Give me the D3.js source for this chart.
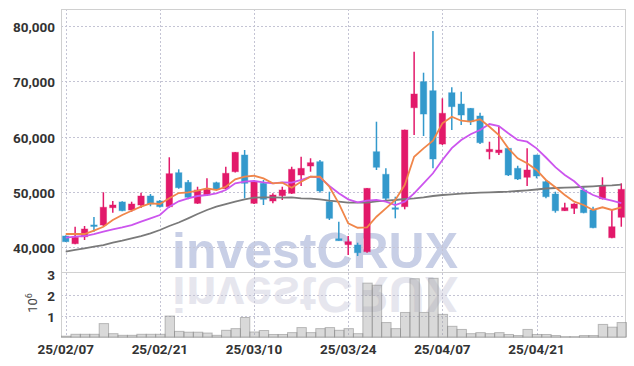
<!DOCTYPE html>
<html>
<head>
<meta charset="utf-8">
<script src="https://cdn.jsdelivr.net/npm/d3@7"></script>
<style>
body { margin: 0; background: #fff; }
svg { display: block; }
.lbl { font-family: Roboto, sans-serif; font-weight: bold; font-size: 13.5px; fill: #333; }
</style>
</head>
<body>
<div id="main"></div>
<script>
// trading days (yy/mm/dd)
var dates = ["25/02/07","25/02/10","25/02/11","25/02/12","25/02/13","25/02/14","25/02/17","25/02/18","25/02/19","25/02/20",
  "25/02/21","25/02/24","25/02/25","25/02/26","25/02/27","25/02/28","25/03/04","25/03/05","25/03/06","25/03/07",
  "25/03/10","25/03/11","25/03/12","25/03/13","25/03/14","25/03/17","25/03/18","25/03/19","25/03/20","25/03/21",
  "25/03/24","25/03/25","25/03/26","25/03/27","25/03/28","25/03/31","25/04/01","25/04/02","25/04/03","25/04/04",
  "25/04/07","25/04/08","25/04/09","25/04/10","25/04/11","25/04/14","25/04/15","25/04/16","25/04/17","25/04/18",
  "25/04/21","25/04/22","25/04/23","25/04/24","25/04/25","25/04/28","25/04/29","25/04/30","25/05/02","25/05/07"];

var open = [41990,40600,41860,43990,43980,47110,48150,46700,47600,49230,
  48330,47300,53450,51710,47910,49410,51640,50550,53630,56650,
  47910,51530,48330,49290,49720,53030,54660,55440,48200,41500,
  40420,40360,39150,57250,53160,47100,47300,65210,69920,68290,
  58640,67930,65880,65100,63710,57250,57070,57860,54240,52620,
  56650,51820,49590,46570,47000,50320,46700,48740,41680,45380];
var high = [42100,43670,43800,45430,49900,48330,48300,48200,49830,49590,
  48500,56240,54060,52130,50910,52430,51820,54530,57200,57560,
  52130,52130,49720,50910,54530,56340,56060,55750,50010,44580,
  41990,40780,50700,62680,54240,49100,61250,75350,71550,79100,
  66910,68910,68110,65150,64310,59060,61770,57900,54710,57860,
  56700,52130,50010,48020,47910,50810,47300,52620,46820,51530];
var low = [40900,40500,41270,42770,43800,46210,46450,46390,47060,47370,
  47150,47100,50550,48630,47800,49230,50320,50450,53500,48810,
  47780,47600,47910,48510,49600,51040,53630,49830,44890,41140,
  38550,38370,38970,53940,48380,45190,46820,60270,60090,54240,
  58460,61180,62080,62080,58640,55870,56650,52850,52130,51040,
  52430,48810,46210,46500,45970,46100,43380,48600,41600,43670];
var close = [40960,41760,43260,43880,47190,47600,46570,47780,49230,47780,
  47300,53270,50730,49000,50320,50440,50440,53340,57140,51530,
  51820,48630,49410,50320,54060,54240,55260,50140,45190,41140,
  40960,38970,50620,54430,48810,47000,61180,67690,64070,55930,
  64200,65400,63890,62680,58880,57680,57560,53030,52310,53940,
  52850,49100,46570,47110,47780,46210,43490,51040,43670,50440];

// volume, millions of shares
var volume = [0.04,0.13,0.13,0.13,0.64,0.16,0.08,0.08,0.13,0.13,
  0.13,1.0,0.27,0.23,0.23,0.19,0.08,0.32,0.40,0.93,
  0.24,0.31,0.12,0.12,0.21,0.45,0.21,0.40,0.45,0.32,
  0.40,0.16,2.57,2.47,0.69,0.40,1.17,2.78,1.17,2.80,
  1.08,0.51,0.36,0.16,0.21,0.16,0.21,0.12,0.07,0.36,
  0.12,0.12,0.07,0.02,0.02,0.07,0.07,0.60,0.47,0.69];

// moving averages
var maShort = [42350,42350,42350,42950,43670,44890,45790,46570,47300,47910,
  47780,48810,49770,49900,50190,50620,50320,50910,52250,52720,
  52900,52430,51530,51640,50730,51820,52720,52720,50910,47910,
  44290,43490,43570,45480,47000,48510,51220,56340,57860,59240,
  62390,63580,62860,62680,63110,61770,60270,57860,56050,55150,
  53940,52130,50810,49410,48200,47600,46700,47190,46700,47190];
var maMid = [41680,41860,41990,42350,42770,43200,43570,43980,44580,45190,
  45790,47300,48270,48810,49230,49410,49720,50320,51530,51820,
  51950,51710,51530,51710,51640,52130,52720,52620,51040,49720,
  48630,48090,48380,48510,48200,47600,48200,49720,51530,53340,
  55750,57900,59370,60400,61180,62260,61900,60580,59370,59060,
  57860,56200,54450,53030,51900,50320,49410,48800,48380,47960];
var maLong = [39150,39460,39760,40050,40360,40780,41140,41570,41990,42480,
  43080,43800,44430,45190,45970,46700,47300,47780,48200,48630,
  48920,49000,49000,48920,49000,48810,48740,48630,48380,48200,
  48020,48020,48020,48270,48380,48510,48690,48810,49000,49230,
  49410,49540,49650,49770,49830,49900,49960,50010,50140,50260,
  50410,50590,50680,50730,50810,50910,50990,51100,51170,51280];

var priceTicks = [40000, 50000, 60000, 70000, 80000];
var volTicks = [1, 2, 3];
var dateTicks = ["25/02/07","25/02/21","25/03/10","25/03/24","25/04/07","25/04/21"];

var W = 634, H = 366;
var plotL = 61, plotR = 626, plotT = 9, plotSep = 272, plotB = 337;

var svg = d3.select("#main").append("svg")
  .attr("width", W)
  .attr("height", H);

var x = d3.scaleBand().domain(dates).range([plotL, plotR]).padding(0);
var y = d3.scaleLinear().domain([35475, 83080]).range([plotSep, plotT]);
var yv = d3.scaleLinear().domain([0, 3.1]).range([plotB, plotSep]);
var bw = x.bandwidth();
var cx = function(d) { return x(d) + bw / 2; };

// watermark and its reflection
var wm = svg.append("g");
wm.append("text")
  .attr("x", 315).attr("y", 268)
  .attr("transform", "translate(0," + (2 * 272.4) + ") scale(1,-1)")
  .attr("text-anchor", "middle")
  .attr("textLength", 286).attr("lengthAdjust", "spacingAndGlyphs")
  .style("font-family", "'Liberation Sans', Arial, sans-serif")
  .style("font-weight", "bold").style("font-size", "50px")
  .style("fill", "#e6e6ee")
  .text("investCRUX");
wm.append("text")
  .attr("x", 315).attr("y", 268)
  .attr("text-anchor", "middle")
  .attr("textLength", 286).attr("lengthAdjust", "spacingAndGlyphs")
  .style("font-family", "'Liberation Sans', Arial, sans-serif")
  .style("font-weight", "bold").style("font-size", "50px")
  .style("fill", "#c8cfe6")
  .text("investCRUX");

// grid
var grid = svg.append("g").attr("stroke", "#c4c4d4").attr("stroke-dasharray", "2,2").attr("stroke-width", 1);
grid.selectAll(".gy").data(priceTicks).enter().append("line")
  .attr("x1", plotL).attr("x2", plotR)
  .attr("y1", function(d) { return Math.round(y(d)) + 0.5; })
  .attr("y2", function(d) { return Math.round(y(d)) + 0.5; });
grid.selectAll(".gv").data([1, 2]).enter().append("line")
  .attr("x1", plotL).attr("x2", plotR)
  .attr("y1", function(d) { return Math.round(yv(d)) + 0.5; })
  .attr("y2", function(d) { return Math.round(yv(d)) + 0.5; });
grid.selectAll(".gx").data(dateTicks).enter().append("line")
  .attr("y1", plotT).attr("y2", plotB)
  .attr("x1", function(d) { return Math.round(cx(d)) + 0.5; })
  .attr("x2", function(d) { return Math.round(cx(d)) + 0.5; });

// frame
var frame = svg.append("g").attr("stroke", "#d0d0d0").attr("stroke-width", 1).attr("fill", "none");
frame.append("rect").attr("x", plotL + 0.5).attr("y", plotT + 0.5).attr("width", plotR - plotL - 1).attr("height", plotB - plotT);
frame.append("line").attr("x1", plotL).attr("x2", plotR).attr("y1", plotSep + 0.5).attr("y2", plotSep + 0.5);

// volume bars
svg.append("g").selectAll("rect").data(dates).enter().append("rect")
  .attr("x", function(d) { return x(d) + 0.5; })
  .attr("width", bw)
  .attr("y", function(d, i) { return yv(volume[i]); })
  .attr("height", function(d, i) { return plotB - yv(volume[i]); })
  .attr("fill", "rgba(160,160,160,0.4)")
  .attr("stroke", "rgba(120,120,120,0.45)")
  .attr("stroke-width", 1);

// candles
var up = "#e2196a", down = "#3399cc";
var col = function(i) { return close[i] >= open[i] ? up : down; };
var candles = svg.append("g");
candles.selectAll(".wick").data(dates).enter().append("line")
  .attr("x1", cx).attr("x2", cx)
  .attr("y1", function(d, i) { return y(high[i]); })
  .attr("y2", function(d, i) { return y(low[i]); })
  .attr("stroke", function(d, i) { return col(i); })
  .attr("stroke-width", 1.5);
candles.selectAll(".body").data(dates).enter().append("rect")
  .attr("x", function(d) { return cx(d) - 3.2; })
  .attr("width", 6.4)
  .attr("y", function(d, i) { return y(Math.max(open[i], close[i])); })
  .attr("height", function(d, i) { return Math.max(1.5, Math.abs(y(open[i]) - y(close[i]))); })
  .attr("fill", function(d, i) { return col(i); })
  .attr("stroke", function(d, i) { return col(i); })
  .attr("stroke-opacity", 0.4)
  .attr("stroke-width", 1);

// moving average lines
var line = function(arr) {
  return d3.line()
    .x(function(d) { return cx(d); })
    .y(function(d, i) { return y(arr[i]); })(dates);
};
svg.append("path").attr("d", line(maLong)).attr("fill", "none").attr("stroke", "#7a7a7a").attr("stroke-width", 1.8);
svg.append("path").attr("d", line(maMid)).attr("fill", "none").attr("stroke", "#cc55ee").attr("stroke-width", 1.8);
svg.append("path").attr("d", line(maShort)).attr("fill", "none").attr("stroke", "#f0864a").attr("stroke-width", 1.8);

// axis labels
svg.append("g").selectAll("text").data(priceTicks).enter().append("text")
  .attr("class", "lbl")
  .attr("x", 55)
  .attr("y", function(d) { return y(d) + 6; })
  .attr("text-anchor", "end")
  .text(d3.format(","));
svg.append("g").selectAll("text").data(volTicks).enter().append("text")
  .attr("class", "lbl")
  .attr("x", 55)
  .attr("y", function(d) { return yv(d) + 6; })
  .attr("text-anchor", "end")
  .text(function(d) { return d; });
svg.append("g").selectAll("text").data(dateTicks).enter().append("text")
  .attr("class", "lbl")
  .attr("x", cx)
  .attr("y", 354)
  .attr("text-anchor", "middle")
  .text(function(d) { return d; });

var unit = svg.append("text")
  .attr("transform", "translate(37,303) rotate(-90)")
  .attr("text-anchor", "middle")
  .style("font-family", "Roboto, sans-serif").style("font-size", "13px").style("fill", "#444");
unit.append("tspan").text("10");
unit.append("tspan").attr("dy", -5).style("font-size", "9px").text("6");
</script>
</body>
</html>
